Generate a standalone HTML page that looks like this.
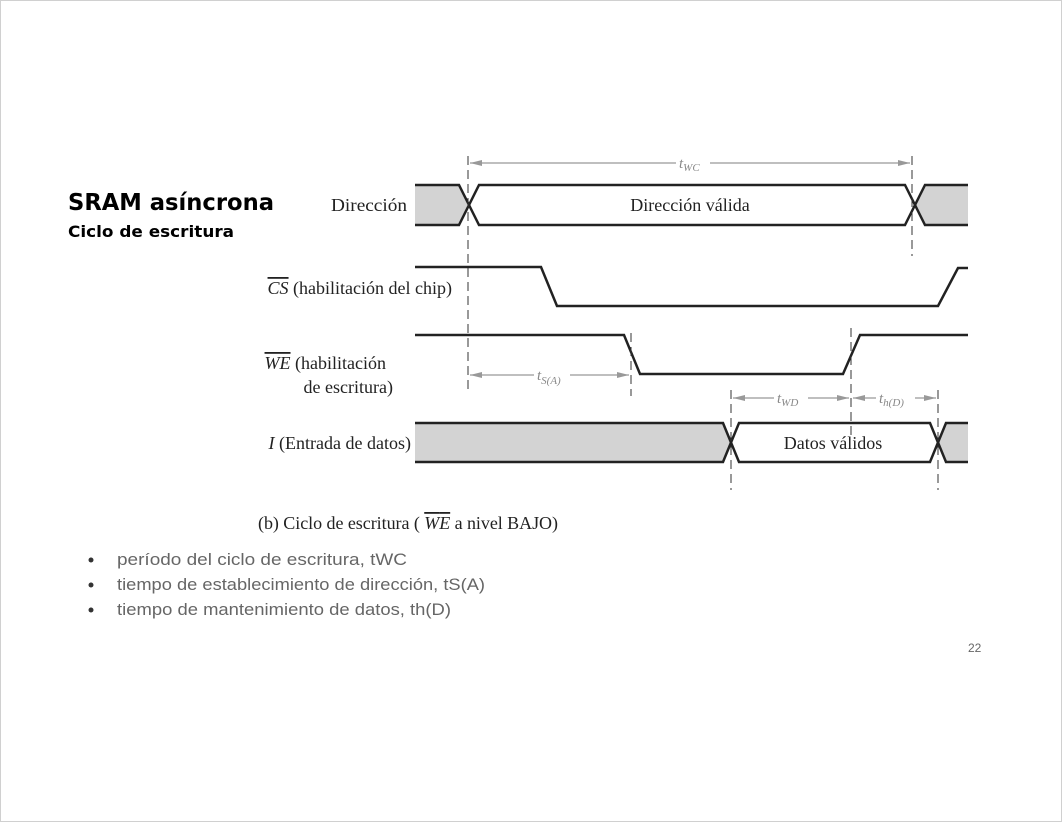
<!DOCTYPE html>
<html><head><meta charset="utf-8"><style>
html,body{margin:0;padding:0;background:#fff;}
svg{display:block;}
</style></head><body>
<svg width="1062" height="822" xmlns="http://www.w3.org/2000/svg">
<rect x="0.5" y="0.5" width="1061" height="821" fill="#fff" stroke="#d0d0d0"/>
<text x="68" y="210" font-family="DejaVu Sans, sans-serif" font-weight="bold" font-size="23" fill="#000" textLength="206" lengthAdjust="spacingAndGlyphs">SRAM asíncrona</text>
<text x="68" y="237" font-family="DejaVu Sans, sans-serif" font-weight="bold" font-size="16" fill="#000" textLength="166" lengthAdjust="spacingAndGlyphs">Ciclo de escritura</text>

<g font-family="Liberation Serif, serif" font-size="18" fill="#222" text-anchor="end">
<text x="407" y="211" textLength="76" lengthAdjust="spacingAndGlyphs">Dirección</text>
<text x="452" y="294"><tspan font-style="italic" text-decoration="overline">CS</tspan> (habilitación del chip)</text>
<text x="386" y="369"><tspan font-style="italic" text-decoration="overline">WE</tspan> (habilitación</text>
<text x="393" y="393">de escritura)</text>
<text x="411" y="449"><tspan font-style="italic">I</tspan> (Entrada de datos)</text>
</g>

<!-- Direccion bus -->
<polygon points="415,185 459,185 469,205 459,225 415,225" fill="#d3d3d3"/>
<polygon points="968,185 925,185 915,205 925,225 968,225" fill="#d3d3d3"/>
<g stroke="#222" stroke-width="2.5" fill="none">
<polyline points="415,185 459,185 479,225 905,225 925,185 968,185"/>
<polyline points="415,225 459,225 479,185 905,185 925,225 968,225"/>
<polyline points="415,267 541,267 557,306 938,306 958,268 968,268"/>
<polyline points="415,335 624,335 640,374 843,374 860,335 968,335"/>
</g>
<!-- Data bus -->
<polygon points="415,423 723,423 731,442 723,462 415,462" fill="#d3d3d3"/>
<polygon points="968,423 946,423 938,442 946,462 968,462" fill="#d3d3d3"/>
<g stroke="#222" stroke-width="2.5" fill="none">
<polyline points="415,423 723,423 739,462 930,462 946,423 968,423"/>
<polyline points="415,462 723,462 739,423 930,423 946,462 968,462"/>
</g>
<text x="833" y="449" font-family="Liberation Serif, serif" font-size="18" fill="#222" text-anchor="middle">Datos válidos</text>
<text x="690" y="211" font-family="Liberation Serif, serif" font-size="18" fill="#222" text-anchor="middle">Dirección válida</text>

<!-- dashed -->
<g stroke="#333" stroke-width="1" stroke-dasharray="9,5">
<line x1="468" y1="156" x2="468" y2="392"/>
<line x1="912" y1="156" x2="912" y2="256"/>
<line x1="631" y1="333" x2="631" y2="396"/>
<line x1="851" y1="328" x2="851" y2="436"/>
<line x1="731" y1="390" x2="731" y2="490"/>
<line x1="938" y1="390" x2="938" y2="490"/>
</g>
<!-- arrows -->
<g stroke="#999" stroke-width="1.2" fill="#999">
<line x1="470" y1="163" x2="676" y2="163"/><line x1="710" y1="163" x2="910" y2="163"/>
<polygon points="470,163 482,160 482,166" stroke="none"/><polygon points="910,163 898,160 898,166" stroke="none"/>
<line x1="470" y1="375" x2="534" y2="375"/><line x1="570" y1="375" x2="629" y2="375"/>
<polygon points="470,375 482,372 482,378" stroke="none"/><polygon points="629,375 617,372 617,378" stroke="none"/>
<line x1="733" y1="398" x2="774" y2="398"/><line x1="808" y1="398" x2="849" y2="398"/>
<polygon points="733,398 745,395 745,401" stroke="none"/><polygon points="849,398 837,395 837,401" stroke="none"/>
<line x1="853" y1="398" x2="876" y2="398"/><line x1="915" y1="398" x2="936" y2="398"/>
<polygon points="853,398 865,395 865,401" stroke="none"/><polygon points="936,398 924,395 924,401" stroke="none"/>
</g>
<g font-family="Liberation Serif, serif" font-style="italic" fill="#888" font-size="15">
<text x="679" y="168">t<tspan font-size="11" dy="3">WC</tspan></text>
<text x="537" y="380">t<tspan font-size="11" dy="4">S(A)</tspan></text>
<text x="777" y="403">t<tspan font-size="11" dy="3">WD</tspan></text>
<text x="879" y="403">t<tspan font-size="11" dy="3">h(D)</tspan></text>
</g>

<text x="258" y="529" font-family="Liberation Serif, serif" font-size="18" fill="#222" textLength="300" lengthAdjust="spacing">(b)  Ciclo de  escritura ( <tspan font-style="italic" text-decoration="overline">WE</tspan> a nivel BAJO)</text>

<g font-family="Liberation Sans, sans-serif" font-size="17" fill="#666">
<circle cx="91" cy="560" r="2.5" fill="#333"/><text x="117" y="565" textLength="290" lengthAdjust="spacingAndGlyphs">período del ciclo de escritura, tWC</text>
<circle cx="91" cy="585" r="2.5" fill="#333"/><text x="117" y="590" textLength="368" lengthAdjust="spacingAndGlyphs">tiempo de establecimiento de dirección, tS(A)</text>
<circle cx="91" cy="610" r="2.5" fill="#333"/><text x="117" y="615" textLength="334" lengthAdjust="spacingAndGlyphs">tiempo de mantenimiento de datos, th(D)</text>
<text x="968" y="652" font-size="12">22</text>
</g>
</svg>
</body></html>
